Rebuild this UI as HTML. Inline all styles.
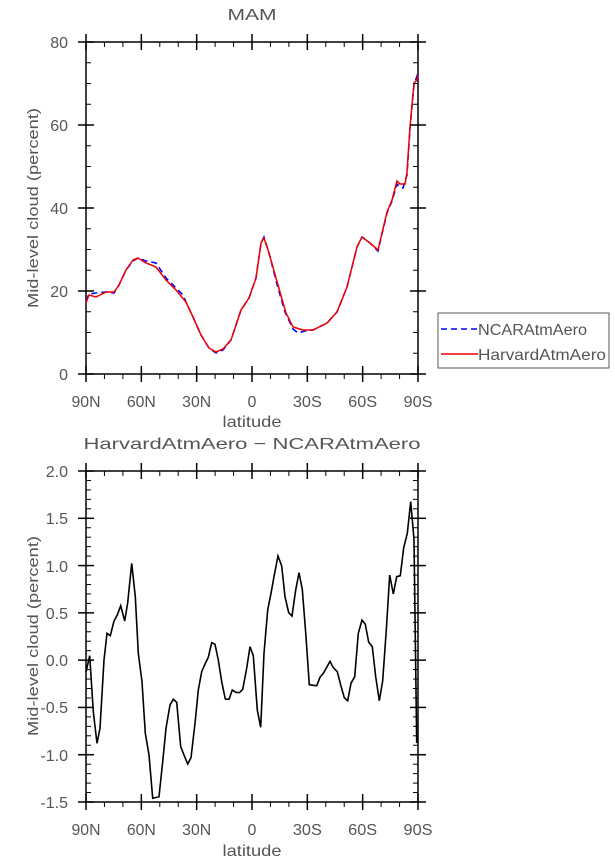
<!DOCTYPE html>
<html><head><meta charset="utf-8"><style>
body{margin:0;background:#fff}
svg{display:block}
text{font-family:"Liberation Sans","DejaVu Sans",sans-serif;fill:#555}
</style></head><body>
<svg id="s" width="615" height="862" xmlns="http://www.w3.org/2000/svg">
<text x="252" y="20" font-size="16" text-anchor="middle" textLength="49" lengthAdjust="spacingAndGlyphs">MAM</text>
<rect x="86" y="42" width="332" height="332" fill="none" stroke="#000" stroke-width="1.5"/>
<g font-size="16" text-anchor="end">
<text x="68" y="48">80</text><text x="68" y="131">60</text><text x="68" y="214">40</text><text x="68" y="297">20</text><text x="68" y="380">0</text>
</g>
<text transform="translate(38,208) rotate(-90)" font-size="15" text-anchor="middle" textLength="200" lengthAdjust="spacingAndGlyphs">Mid-level cloud (percent)</text>
<g font-size="16" text-anchor="middle" id="xl1"></g>
<text x="252" y="427" font-size="16" text-anchor="middle" textLength="59" lengthAdjust="spacingAndGlyphs">latitude</text>
<path fill="none" stroke="#00f" stroke-width="1.6" stroke-dasharray="6,4" d="M86,301 L89,294 L96,293 L106,292 L114,293 L119,285 L126,270 L133,261 L138,258 L146,261 L156,263 L166,278 L176,288 L183,295 L186,302 L193,317 L201,335 L209,348 L216,353 L223,350 L231,340 L241,310 L249,298 L256,278 L261,243 L264,237 L269,253 L278,288 L285,312 L293,329 L298,333 L305,331 L313,330 L327,323 L337,312 L347,287 L357,247 L362,237 L370,243 L378,251 L387,213 L392,201 L397,184 L400,187 L403,188 L407,175 L410,128 L414,85 L418,73"/>
<path fill="none" stroke="#e00" stroke-width="1.5" d="M86,303 L89,295 L96,297 L106,292 L114,292 L119,285 L126,270 L133,260 L138,258 L146,263 L156,267 L166,280 L176,290 L186,302 L193,317 L201,335 L209,348 L216,352 L223,349 L231,340 L241,310 L249,298 L256,278 L261,243 L264,238 L269,253 L278,285 L286,313 L293,327 L303,330 L313,330 L327,323 L337,312 L347,287 L357,247 L362,237 L370,243 L378,250 L387,212 L392,200 L397,181 L400,184 L405,184 L407,172 L410,127 L414,83 L417,80 L418,75"/>
<rect x="438" y="313" width="171" height="55" fill="none" stroke="#555" stroke-width="1"/>
<line x1="441" y1="329" x2="478" y2="329" stroke="#00f" stroke-width="1.5" stroke-dasharray="6,4"/>
<line x1="441" y1="354" x2="478" y2="354" stroke="#e00" stroke-width="1.5"/>
<text x="478" y="335" font-size="16" textLength="109" lengthAdjust="spacingAndGlyphs">NCARAtmAero</text>
<text x="478" y="360" font-size="16" textLength="128" lengthAdjust="spacingAndGlyphs">HarvardAtmAero</text>

<text x="252" y="449" font-size="16" text-anchor="middle" textLength="337" lengthAdjust="spacingAndGlyphs">HarvardAtmAero − NCARAtmAero</text>
<rect x="86" y="471" width="332" height="331" fill="none" stroke="#000" stroke-width="1.5"/>
<g font-size="16" text-anchor="end">
<text x="68" y="477">2.0</text><text x="68" y="524">1.5</text><text x="68" y="572">1.0</text><text x="68" y="619">0.5</text><text x="68" y="666">0.0</text><text x="68" y="713">-0.5</text><text x="68" y="761">-1.0</text><text x="68" y="808">-1.5</text>
</g>
<text transform="translate(38,636) rotate(-90)" font-size="15" text-anchor="middle" textLength="200" lengthAdjust="spacingAndGlyphs">Mid-level cloud (percent)</text>
<g font-size="16" text-anchor="middle" id="xl2"></g>
<text x="252" y="856" font-size="16" text-anchor="middle" textLength="59" lengthAdjust="spacingAndGlyphs">latitude</text>
<path fill="none" stroke="#000" stroke-width="1.6" d="M86,672 L89.7,655.7 L93.3,711.7 L97,743.3 L100,728.3 L104,660 L107,633.3 L110.3,635.7 L114,621 L117.3,615 L120.7,605.7 L124.7,621 L127.7,602.7 L131.7,563.3 L135.3,596.7 L138.3,653.3 L142,681.7 L145.3,733.3 L149,755 L152.7,798.3 L159,796.7 L162.7,761.7 L166,728.3 L170,705 L173.3,699.3 L176.7,702.3 L180.7,746.7 L184,755 L187.7,764 L191,757.7 L195,723.3 L198.3,690 L201.7,671.7 L205,664 L208.3,657.3 L211.7,642.7 L215,644.3 L218.3,660 L221.7,681.7 L225.3,699 L229,699.3 L232.3,690 L235.7,692.3 L239.3,692.7 L242.7,689.3 L246.7,668.3 L250,646.7 L253.3,655.7 L257.3,710 L260.7,727.3 L264,653.3 L267.7,610 L271,593.3 L274.3,575 L278,556 L281.7,566 L285,596.7 L288.7,612.7 L292,616 L295.7,590 L299,572.7 L302.3,589.3 L306,636.7 L309.3,684.7 L313.3,685.3 L316.7,685.7 L320,677.3 L323.3,673.3 L326.7,667.3 L330,661.3 L333.3,667.7 L337.3,671.7 L340.7,685 L344.3,697.7 L347.7,700.7 L351,683.3 L354.7,676.7 L358.3,633.3 L362,620 L365.3,624.3 L368.7,642.3 L372.3,646.7 L375.7,676.7 L379.3,700.7 L382.7,680.7 L386.3,630 L389.7,575 L393.3,594 L396.7,576.7 L400.3,575.7 L403.7,547.7 L407.3,533.3 L410.7,501.7 L414,539.3 L416.7,743"/>
<g id="ticks" stroke="#000" stroke-width="1"></g>
</svg>
<script>
var g=document.getElementById('ticks'),ns="http://www.w3.org/2000/svg";
function L(x1,y1,x2,y2,w){var l=document.createElementNS(ns,'line');l.setAttribute('x1',x1);l.setAttribute('y1',y1);l.setAttribute('x2',x2);l.setAttribute('y2',y2);if(w)l.setAttribute('stroke-width',w);g.appendChild(l);}
var labs=['90N','60N','30N','0','30S','60S','90S'];
function axes(top,bot,ymaj,ymin,lid){
 for(var i=0;i<=18;i++){var x=86+i*332/18;
  if(i%3==0){L(x,top-8,x,top+8,1.5);L(x,bot-8,x,bot+8,1.5);}
  else{L(x,top,x,top+5);L(x,bot,x,bot+5);}}
 var n=Math.round((bot-top)/ymin);
 for(var j=0;j<=n;j++){var y=top+j*ymin;var maj=Math.abs(((j*ymin)/ymaj)-Math.round((j*ymin)/ymaj))<0.01;
  if(maj){L(78,y,94,y,1.5);L(410,y,426,y,1.5);}else{L(86,y,91,y);L(413,y,418,y);}}
 var lg=document.getElementById(lid);
 for(var k=0;k<7;k++){var t=document.createElementNS(ns,'text');t.setAttribute('x',86+k*332/6);t.setAttribute('y',bot+33);t.textContent=labs[k];if(labs[k]!='0'){t.setAttribute('textLength','29');t.setAttribute('lengthAdjust','spacingAndGlyphs');}lg.appendChild(t);}
}
axes(42,374,83,20.75,'xl1');
axes(471,802,47.2857,9.4571,'xl2');
</script>
</body></html>
